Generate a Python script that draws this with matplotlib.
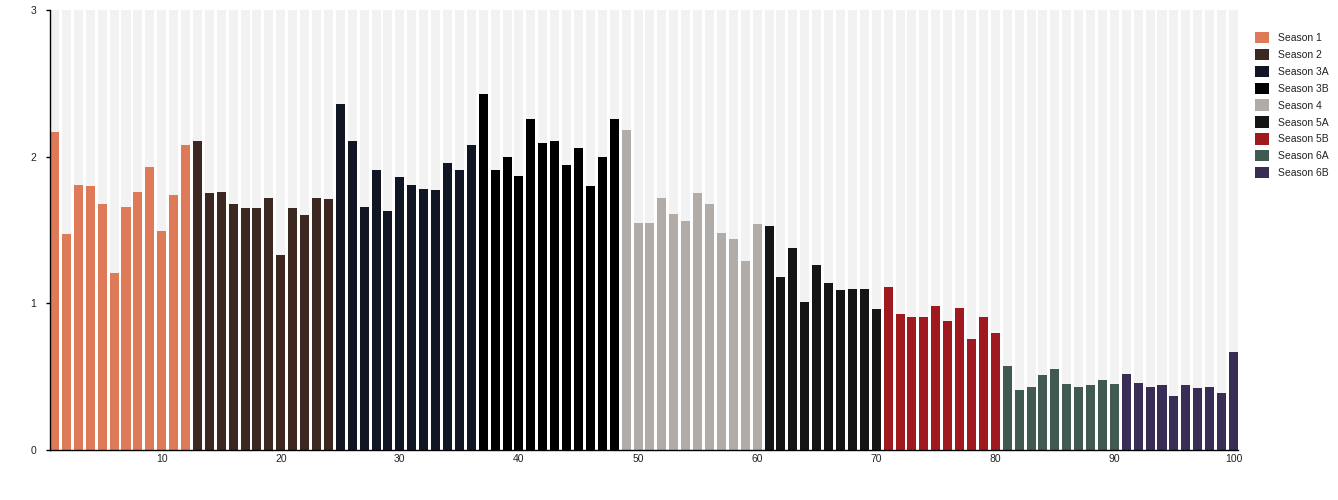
import numpy as np
import matplotlib.pyplot as plt
from matplotlib.patches import Patch

# --- Data: rating per episode, grouped by season ---
seasons = ["Season 1", "Season 2", "Season 3A", "Season 3B", "Season 4",
           "Season 5A", "Season 5B", "Season 6A", "Season 6B"]
season_colors = ["#df7a59", "#3c2820", "#111625", "#000000", "#b1aca8",
                 "#151515", "#a0191e", "#405a52", "#3a2d55"]

s1 = [2.17, 1.47, 1.81, 1.80, 1.68, 1.21, 1.66, 1.76, 1.93, 1.49, 1.74, 2.08]
s2 = [2.11, 1.75, 1.76, 1.68, 1.65, 1.65, 1.72, 1.33, 1.65, 1.60, 1.72, 1.71]
s3a = [2.36, 2.11, 1.66, 1.91, 1.63, 1.86, 1.81, 1.78, 1.77, 1.96, 1.91, 2.08]
s3b = [2.43, 1.91, 2.00, 1.87, 2.26, 2.09, 2.11, 1.94, 2.06, 1.80, 2.00, 2.26]
s4 = [2.18, 1.55, 1.55, 1.72, 1.61, 1.56, 1.75, 1.68, 1.48, 1.44, 1.29, 1.54]
s5a = [1.53, 1.18, 1.38, 1.01, 1.26, 1.14, 1.09, 1.10, 1.10, 0.96]
s5b = [1.11, 0.93, 0.91, 0.91, 0.98, 0.88, 0.97, 0.76, 0.91, 0.80]
s6a = [0.57, 0.41, 0.43, 0.51, 0.55, 0.45, 0.43, 0.44, 0.48, 0.45]
s6b = [0.52, 0.46, 0.43, 0.44, 0.37, 0.44, 0.42, 0.43, 0.39, 0.67]
season_values = [s1, s2, s3a, s3b, s4, s5a, s5b, s6a, s6b]

y_max = 3
bar_w = 0.76

plt.rcParams['font.family'] = ['Liberation Sans', 'DejaVu Sans']

fig = plt.figure(figsize=(13.38, 5.0), dpi=100)
ax = fig.add_axes([50 / 1338, 50 / 500, 1188 / 1338, 440 / 500])

n_total = sum(len(v) for v in season_values)
episodes = np.arange(1, n_total + 1)

# grey background column for every episode
ax.bar(episodes, y_max, width=bar_w, color="#f2f2f2", zorder=1)

start = 1
handles = []
for name, col, vals in zip(seasons, season_colors, season_values):
    x = np.arange(start, start + len(vals))
    ax.bar(x, vals, width=bar_w, color=col, zorder=2)
    handles.append(Patch(facecolor=col, label=name))
    start += len(vals)

ax.set_xlim(1 - bar_w / 2, n_total + bar_w / 2)
ax.set_ylim(0, y_max)
ax.set_xticks(np.arange(10, n_total + 1, 10))
ax.set_yticks(np.arange(0, y_max + 1, 1))

for s in ["top", "right"]:
    ax.spines[s].set_visible(False)
for s in ["left", "bottom"]:
    ax.spines[s].set_linewidth(1.0)
    ax.spines[s].set_color("#000000")

ax.tick_params(axis="x", length=0, pad=3, labelsize=7.5, labelcolor="#222222")
ax.tick_params(axis="y", length=3, width=1, pad=7, labelsize=7.5, labelcolor="#222222")

ax.legend(handles=handles, loc="upper left",
          bbox_to_anchor=(1255 / 1338, 1 - 32 / 500), bbox_transform=fig.transFigure,
          frameon=False, fontsize=7.5, borderpad=0, borderaxespad=0,
          handlelength=1.35, handleheight=1.3, handletextpad=0.85,
          labelspacing=0.53, labelcolor="#222222")

fig.savefig("out.png", dpi=100)
